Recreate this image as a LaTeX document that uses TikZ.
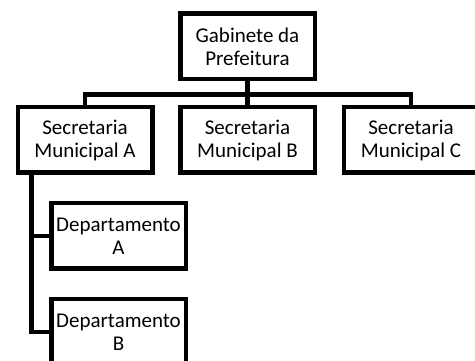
\documentclass[tikz,border=0pt]{standalone}
\usepackage{fontspec}
\setmainfont{Carlito}
\begin{document}
\begin{tikzpicture}[x=1pt,y=-1pt,
  orgbox/.style={draw=black, line width=4.5pt, fill=white, minimum width=134.5pt,
    minimum height=65.5pt, inner sep=0pt, align=center,
    font=\fontsize{21pt}{23pt}\selectfont},
  link/.style={draw=black, line width=4.5pt}]
\useasboundingbox (0,0) rectangle (475,361);
\clip (0,0) rectangle (475,361);
\fill[white] (0,0) rectangle (475,361);
\node[orgbox] (top) at (247.5,46.5) {Gabinete da\\Prefeitura};
\node[orgbox] (sa) at (85,140) {Secretaria\\Municipal A};
\node[orgbox] (sb) at (247.5,140) {Secretaria\\Municipal B};
\node[orgbox] (sc) at (411,140) {Secretaria\\Municipal C};
\node[orgbox] (da) at (118.5,236) {Departamento\\A};
\node[orgbox] (db) at (118.5,332) {Departamento\\B};
\coordinate (bar) at (0,94.5);
\coordinate (sp) at ([xshift=16pt]sa.south west);
\draw[link] (top.south) -- (sb.north);
\draw[link] (sa.north) -- (sa.north |- bar) -- (sc.north |- bar) -- (sc.north);
\draw[link] (sp) |- (da.west);
\draw[link] (sp) |- (db.west);
\end{tikzpicture}
\end{document}
